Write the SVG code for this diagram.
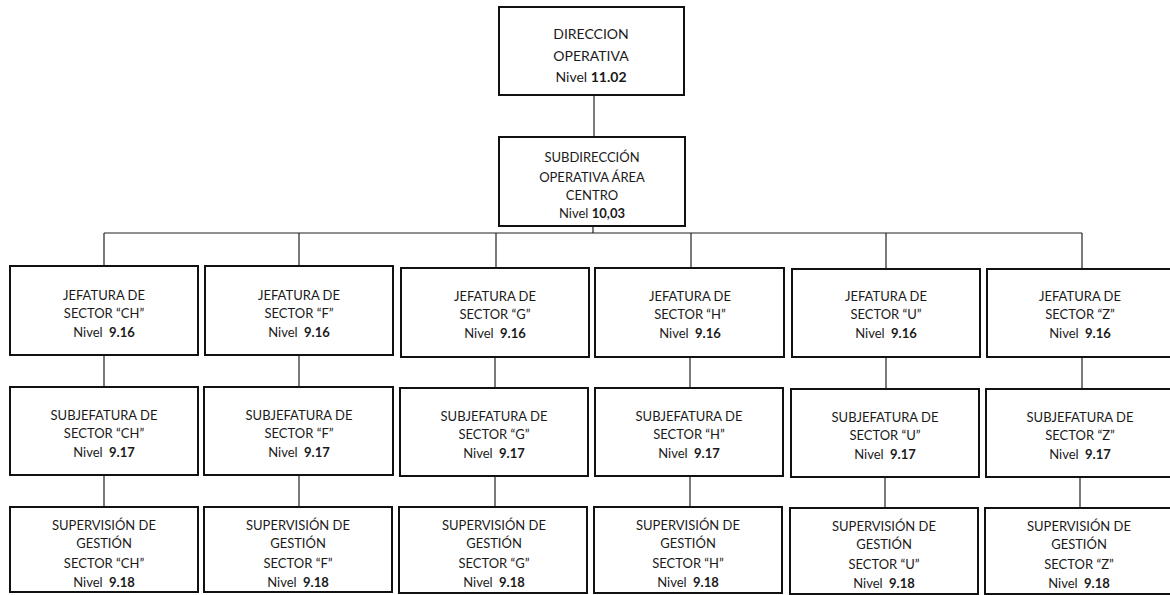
<svg xmlns="http://www.w3.org/2000/svg" width="1170" height="595" viewBox="0 0 1170 595">
<style>
.box{fill:#fff;stroke:#111;stroke-width:2}
.t{font-family:Lato,"Open Sans","Liberation Sans",sans-serif;font-size:13px;fill:#1a1a1a;text-anchor:middle}
.big{font-size:14px}
.b{font-weight:bold}
.c{stroke:#222;stroke-width:1.2;fill:none}
</style>
<rect width="1170" height="595" fill="#fff"/>
<g id="connectors">
<line class="c" x1="594" y1="95" x2="594" y2="137"/>
<line class="c" x1="593" y1="226" x2="593" y2="233"/>
<line class="c" x1="104" y1="233" x2="1082" y2="233"/>
<line class="c" x1="104" y1="233" x2="104" y2="267"/>
<line class="c" x1="299" y1="233" x2="299" y2="267"/>
<line class="c" x1="496" y1="233" x2="496" y2="268"/>
<line class="c" x1="691" y1="233" x2="691" y2="268"/>
<line class="c" x1="886" y1="233" x2="886" y2="269"/>
<line class="c" x1="1082" y1="233" x2="1082" y2="269"/>
<line class="c" x1="104" y1="355" x2="104" y2="387"/>
<line class="c" x1="299" y1="355" x2="299" y2="387"/>
<line class="c" x1="495" y1="357" x2="495" y2="388"/>
<line class="c" x1="690" y1="357" x2="690" y2="388"/>
<line class="c" x1="886" y1="357" x2="886" y2="389"/>
<line class="c" x1="1082" y1="357" x2="1082" y2="389"/>
<line class="c" x1="104" y1="475" x2="104" y2="507"/>
<line class="c" x1="299" y1="475" x2="299" y2="507"/>
<line class="c" x1="495" y1="476" x2="495" y2="507"/>
<line class="c" x1="690" y1="476" x2="690" y2="507"/>
<line class="c" x1="885" y1="477" x2="885" y2="508"/>
<line class="c" x1="1080" y1="477" x2="1080" y2="508"/>
</g>
<g id="direccion">
<rect class="box" x="499" y="7" width="185" height="88"/>
<text class="t big" x="591" y="39">DIRECCION</text>
<text class="t big" x="591" y="61">OPERATIVA</text>
<text class="t big" x="591" y="82">Nivel <tspan class="b">11.02</tspan></text>
</g>
<g id="subdireccion">
<rect class="box" x="499" y="137" width="186" height="89"/>
<text class="t" x="592" y="162">SUBDIRECCIÓN</text>
<text class="t" x="592" y="182">OPERATIVA ÁREA</text>
<text class="t" x="592" y="200">CENTRO</text>
<text class="t" x="592" y="218">Nivel <tspan class="b">10,03</tspan></text>
</g>
<g id="jef-ch">
<rect class="box" x="10" y="266" width="188" height="89"/>
<text class="t" x="104" y="300">JEFATURA DE</text>
<text class="t" x="104" y="318">SECTOR “CH”</text>
<text class="t" x="104" y="337">Nivel <tspan class="b" dx="3">9.16</tspan></text>
</g>
<g id="jef-f">
<rect class="box" x="205" y="266" width="188" height="89"/>
<text class="t" x="299" y="300">JEFATURA DE</text>
<text class="t" x="299" y="318">SECTOR “F”</text>
<text class="t" x="299" y="337">Nivel <tspan class="b" dx="3">9.16</tspan></text>
</g>
<g id="jef-g">
<rect class="box" x="401" y="268" width="188" height="89"/>
<text class="t" x="495" y="301">JEFATURA DE</text>
<text class="t" x="495" y="319">SECTOR “G”</text>
<text class="t" x="495" y="338">Nivel <tspan class="b" dx="3">9.16</tspan></text>
</g>
<g id="jef-h">
<rect class="box" x="595" y="268" width="189" height="89"/>
<text class="t" x="690" y="301">JEFATURA DE</text>
<text class="t" x="690" y="319">SECTOR “H”</text>
<text class="t" x="690" y="338">Nivel <tspan class="b" dx="3">9.16</tspan></text>
</g>
<g id="jef-u">
<rect class="box" x="792" y="269" width="188" height="88"/>
<text class="t" x="886" y="301">JEFATURA DE</text>
<text class="t" x="886" y="319">SECTOR “U”</text>
<text class="t" x="886" y="338">Nivel <tspan class="b" dx="3">9.16</tspan></text>
</g>
<g id="jef-z">
<rect class="box" x="987" y="269" width="190" height="88"/>
<text class="t" x="1080" y="301">JEFATURA DE</text>
<text class="t" x="1080" y="319">SECTOR “Z”</text>
<text class="t" x="1080" y="338">Nivel <tspan class="b" dx="3">9.16</tspan></text>
</g>
<g id="sub-ch">
<rect class="box" x="10" y="387" width="188" height="88"/>
<text class="t" x="104" y="420">SUBJEFATURA DE</text>
<text class="t" x="104" y="438">SECTOR “CH”</text>
<text class="t" x="104" y="457">Nivel <tspan class="b" dx="3">9.17</tspan></text>
</g>
<g id="sub-f">
<rect class="box" x="204" y="387" width="189" height="88"/>
<text class="t" x="299" y="420">SUBJEFATURA DE</text>
<text class="t" x="299" y="438">SECTOR “F”</text>
<text class="t" x="299" y="457">Nivel <tspan class="b" dx="3">9.17</tspan></text>
</g>
<g id="sub-g">
<rect class="box" x="400" y="388" width="188" height="88"/>
<text class="t" x="494" y="421">SUBJEFATURA DE</text>
<text class="t" x="494" y="439">SECTOR “G”</text>
<text class="t" x="494" y="458">Nivel <tspan class="b" dx="3">9.17</tspan></text>
</g>
<g id="sub-h">
<rect class="box" x="595" y="388" width="188" height="88"/>
<text class="t" x="689" y="421">SUBJEFATURA DE</text>
<text class="t" x="689" y="439">SECTOR “H”</text>
<text class="t" x="689" y="458">Nivel <tspan class="b" dx="3">9.17</tspan></text>
</g>
<g id="sub-u">
<rect class="box" x="791" y="389" width="188" height="88"/>
<text class="t" x="885" y="422">SUBJEFATURA DE</text>
<text class="t" x="885" y="440">SECTOR “U”</text>
<text class="t" x="885" y="459">Nivel <tspan class="b" dx="3">9.17</tspan></text>
</g>
<g id="sub-z">
<rect class="box" x="986" y="389" width="190" height="88"/>
<text class="t" x="1080" y="422">SUBJEFATURA DE</text>
<text class="t" x="1080" y="440">SECTOR “Z”</text>
<text class="t" x="1080" y="459">Nivel <tspan class="b" dx="3">9.17</tspan></text>
</g>
<g id="sup-ch">
<rect class="box" x="10" y="507" width="188" height="85"/>
<text class="t" x="104" y="530">SUPERVISIÓN DE</text>
<text class="t" x="104" y="548">GESTIÓN</text>
<text class="t" x="104" y="568">SECTOR “CH”</text>
<text class="t" x="104" y="587">Nivel <tspan class="b" dx="3">9.18</tspan></text>
</g>
<g id="sup-f">
<rect class="box" x="204" y="507" width="188" height="85"/>
<text class="t" x="298" y="530">SUPERVISIÓN DE</text>
<text class="t" x="298" y="548">GESTIÓN</text>
<text class="t" x="298" y="568">SECTOR “F”</text>
<text class="t" x="298" y="587">Nivel <tspan class="b" dx="3">9.18</tspan></text>
</g>
<g id="sup-g">
<rect class="box" x="399" y="507" width="188" height="86"/>
<text class="t" x="494" y="530">SUPERVISIÓN DE</text>
<text class="t" x="494" y="548">GESTIÓN</text>
<text class="t" x="494" y="568">SECTOR “G”</text>
<text class="t" x="494" y="587">Nivel <tspan class="b" dx="3">9.18</tspan></text>
</g>
<g id="sup-h">
<rect class="box" x="594" y="507" width="188" height="86"/>
<text class="t" x="688" y="530">SUPERVISIÓN DE</text>
<text class="t" x="688" y="548">GESTIÓN</text>
<text class="t" x="688" y="568">SECTOR “H”</text>
<text class="t" x="688" y="587">Nivel <tspan class="b" dx="3">9.18</tspan></text>
</g>
<g id="sup-u">
<rect class="box" x="790" y="508" width="188" height="86"/>
<text class="t" x="884" y="531">SUPERVISIÓN DE</text>
<text class="t" x="884" y="549">GESTIÓN</text>
<text class="t" x="884" y="569">SECTOR “U”</text>
<text class="t" x="884" y="588">Nivel <tspan class="b" dx="3">9.18</tspan></text>
</g>
<g id="sup-z">
<rect class="box" x="985" y="508" width="190" height="86"/>
<text class="t" x="1079" y="531">SUPERVISIÓN DE</text>
<text class="t" x="1079" y="549">GESTIÓN</text>
<text class="t" x="1079" y="569">SECTOR “Z”</text>
<text class="t" x="1079" y="588">Nivel <tspan class="b" dx="3">9.18</tspan></text>
</g>
</svg>
